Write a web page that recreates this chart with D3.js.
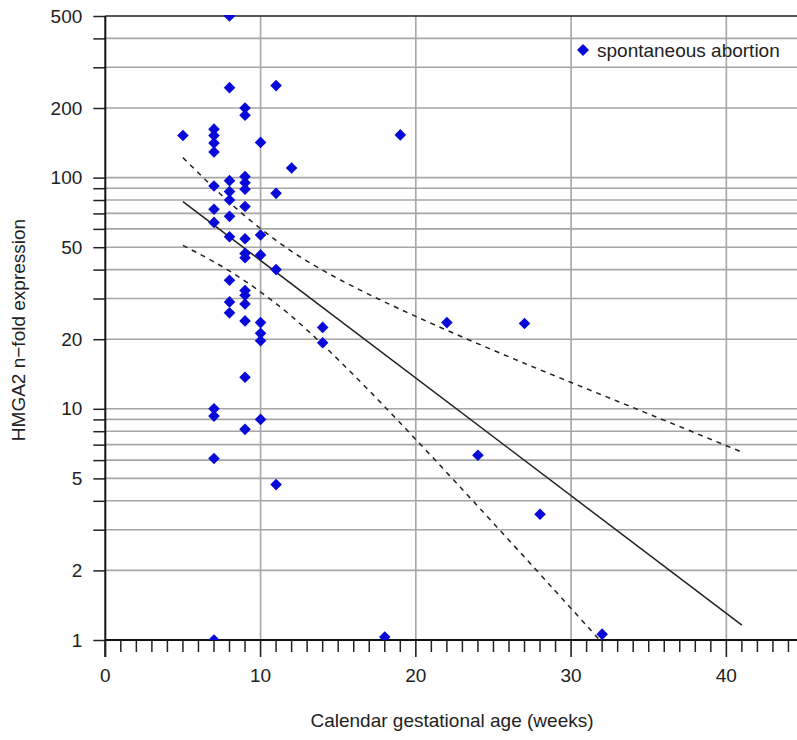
<!DOCTYPE html>
<html>
<head>
<meta charset="utf-8">
<script src="https://cdn.jsdelivr.net/npm/d3@7"></script>
<style>
  html, body { margin: 0; padding: 0; background: #fff; }
  svg { display: block; font-family: "Liberation Sans", Arial, sans-serif; }
</style>
</head>
<body>
<svg id="chart" width="797" height="740"></svg>
<script>
// Gestational age (weeks) and HMGA2 n-fold expression for each spontaneous abortion sample
const weeks = [
  5,
  7, 7, 7, 7, 7, 7, 7, 7, 7, 7, 7,
  8, 8, 8, 8, 8, 8, 8, 8, 8, 8,
  9, 9, 9, 9, 9, 9, 9, 9, 9, 9, 9, 9, 9, 9, 9,
  10, 10, 10, 10, 10, 10, 10,
  11, 11, 11, 11,
  12, 14, 14, 18, 19, 22, 24, 27, 28, 32
];
const expression = [
  152,
  162, 152, 141, 129, 92, 73, 64, 10, 9.3, 6.1, 1.0,
  500, 245, 97, 87, 80, 68, 55.5, 36, 29, 26,
  200, 186, 101, 95, 89, 75, 54.4, 47, 45, 32.5, 31, 28.4, 24, 13.7, 8.15,
  142, 56.5, 46.3, 23.6, 21.2, 19.7, 9.0,
  250, 85.5, 40, 4.7,
  110, 22.5, 19.3, 1.03, 153, 23.6, 6.3, 23.4, 3.5, 1.06
];

// Log-linear regression line and its 95% confidence band
const fitWeeks = [5, 41];
const fitValues = [78.7, 1.16];
const upperWeeks = [5, 7, 9, 11, 13, 16, 20, 25, 30, 35, 41];
const upperValues = [122, 90.2, 68.2, 53.5, 43.5, 33.7, 25.1, 17.9, 13.0, 9.5, 6.5];
const lowerWeeks = [5, 7, 9, 11, 13, 16, 20, 25, 30, 32];
const lowerValues = [50.9, 43.2, 35.7, 28.5, 21.9, 14.0, 7.37, 3.2, 1.37, 0.97];

// Axis ticks
const xMajorTicks = [0, 10, 20, 30, 40];
const xMinorTicks = d3.range(0, 45);
const yTicks = [1, 2, 3, 4, 5, 6, 7, 8, 9, 10, 20, 30, 40, 50, 60, 70, 80, 90, 100, 200, 300, 400, 500];
const yLabelTicks = [1, 2, 5, 10, 20, 50, 100, 200, 500];

const seriesName = "spontaneous abortion";
const xTitle = "Calendar gestational age (weeks)";
const yTitle = "HMGA2 n\u2212fold expression";

const svg = d3.select("#chart");
const plotLeft = 105.3, plotRight = 797, plotTop = 16, plotBottom = 640;

const x = d3.scaleLinear().domain([0, 44.55]).range([plotLeft, plotRight]);
const y = d3.scaleLog().domain([1, 500]).range([plotBottom, plotTop]);

const gridColor = "#a6a6a6";
const markColor = "#0808d8";
const fontSize = 19;

svg.append("defs").append("clipPath").attr("id", "plotClip")
  .append("rect").attr("x", plotLeft).attr("y", plotTop - 1)
  .attr("width", plotRight - plotLeft).attr("height", plotBottom - plotTop + 1);

// Horizontal grid lines
svg.append("g").selectAll("line").data(yTicks.filter(v => v > 1 && v < 500)).join("line")
  .attr("x1", plotLeft).attr("x2", plotRight)
  .attr("y1", d => y(d)).attr("y2", d => y(d))
  .attr("stroke", gridColor).attr("stroke-width", 1.6);

// Vertical grid lines
svg.append("g").selectAll("line").data(xMajorTicks.filter(v => v > 0)).join("line")
  .attr("x1", d => x(d)).attr("x2", d => x(d))
  .attr("y1", plotTop).attr("y2", plotBottom)
  .attr("stroke", gridColor).attr("stroke-width", 1.6);

// Top frame line
svg.append("line").attr("x1", plotLeft).attr("x2", plotRight).attr("y1", y(500)).attr("y2", y(500))
  .attr("stroke", "#222").attr("stroke-width", 1.6);

// Y axis
const yAxis = d3.axisLeft(y).tickValues(yTicks).tickSize(12)
  .tickFormat(d => yLabelTicks.includes(d) ? d3.format("d")(d) : "");
const gy = svg.append("g").attr("transform", `translate(${plotLeft},0)`).call(yAxis);
gy.select(".domain").remove();
gy.selectAll(".tick line").attr("stroke", "#222").attr("stroke-width", 1.5);
gy.selectAll(".tick text").attr("x", -23).attr("font-size", fontSize).attr("fill", "#222")
  .attr("font-family", "Liberation Sans, Arial, sans-serif");
svg.append("line").attr("x1", plotLeft).attr("x2", plotLeft).attr("y1", plotTop).attr("y2", plotBottom + 17)
  .attr("stroke", "#111").attr("stroke-width", 2);

// X axis: minor weekly ticks and labelled major ticks
const gx = svg.append("g").attr("transform", `translate(0,${plotBottom})`);
gx.append("line").attr("x1", plotLeft).attr("x2", plotRight).attr("stroke", "#111").attr("stroke-width", 2);
gx.selectAll("line.minor").data(xMinorTicks.filter(v => v % 10 !== 0)).join("line")
  .attr("class", "minor")
  .attr("x1", d => x(d)).attr("x2", d => x(d)).attr("y1", 0).attr("y2", 12)
  .attr("stroke", "#222").attr("stroke-width", 1.5);
gx.selectAll("line.major").data(xMajorTicks).join("line")
  .attr("class", "major")
  .attr("x1", d => x(d)).attr("x2", d => x(d)).attr("y1", 0).attr("y2", 17)
  .attr("stroke", "#222").attr("stroke-width", 1.6);
gx.selectAll("text").data(xMajorTicks).join("text")
  .attr("x", d => x(d)).attr("y", 42)
  .attr("text-anchor", "middle").attr("font-size", fontSize).attr("fill", "#222")
  .text(d => d);

// Axis titles
svg.append("text").attr("x", 452).attr("y", 727).attr("text-anchor", "middle")
  .attr("font-size", fontSize).attr("fill", "#222").text(xTitle);
svg.append("text").attr("transform", "translate(25,330) rotate(-90)").attr("text-anchor", "middle")
  .attr("font-size", fontSize).attr("fill", "#222").text(yTitle);

// Regression line and confidence band
const plot = svg.append("g").attr("clip-path", "url(#plotClip)");
const line = d3.line().x(d => x(d[0])).y(d => y(d[1]));
const curve = d3.line().x(d => x(d[0])).y(d => y(d[1])).curve(d3.curveNatural);

plot.append("path").datum(d3.zip(fitWeeks, fitValues)).attr("d", line)
  .attr("fill", "none").attr("stroke", "#222").attr("stroke-width", 1.5);
plot.append("path").datum(d3.zip(upperWeeks, upperValues)).attr("d", curve)
  .attr("fill", "none").attr("stroke", "#222").attr("stroke-width", 1.5).attr("stroke-dasharray", "5,5");
plot.append("path").datum(d3.zip(lowerWeeks, lowerValues)).attr("d", curve)
  .attr("fill", "none").attr("stroke", "#222").attr("stroke-width", 1.5).attr("stroke-dasharray", "5,5");

// Data points as diamonds
const diamond = r => `M0,${-r}L${r},0L0,${r}L${-r},0Z`;
plot.append("g").selectAll("path").data(d3.zip(weeks, expression)).join("path")
  .attr("transform", d => `translate(${x(d[0])},${y(d[1])})`)
  .attr("d", diamond(5.8))
  .attr("fill", markColor);

// Legend
const legend = svg.append("g").attr("transform", "translate(583,50)");
legend.append("path").attr("d", diamond(6)).attr("fill", markColor);
legend.append("text").attr("x", 14).attr("y", 7).attr("font-size", fontSize).attr("fill", "#222").text(seriesName);
</script>
</body>
</html>
